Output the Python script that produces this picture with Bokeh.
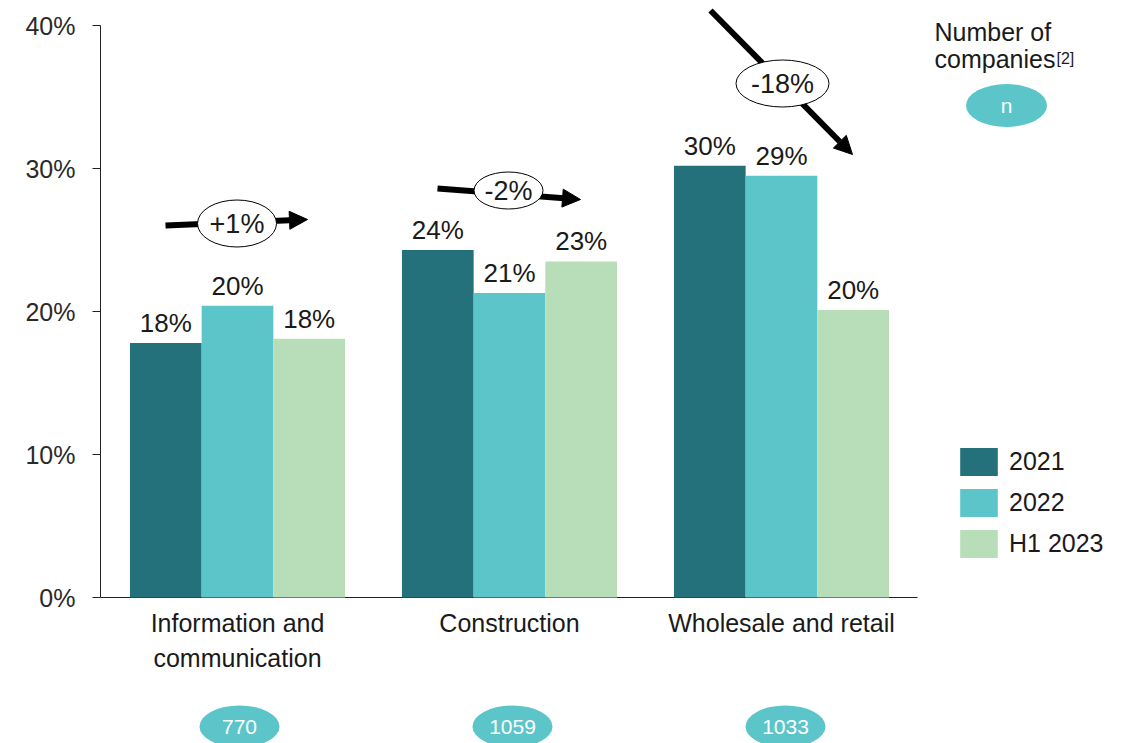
import numpy as np
from bokeh.plotting import figure
from bokeh.models import (Range1d, NumeralTickFormatter, FixedTicker, Arrow, NormalHead,
                          Legend, LegendItem)
from bokeh.core.properties import value
from bokeh.embed import file_html
from bokeh.resources import INLINE

# ---------------- data ----------------
categories = ["Information and\ncommunication", "Construction", "Wholesale and retail"]
series = ["2021", "2022", "H1 2023"]
v2021 = [0.178, 0.243, 0.302]
v2022 = [0.204, 0.213, 0.295]
vH1 = [0.181, 0.235, 0.201]
lab2021 = ["18%", "24%", "30%"]
lab2022 = ["20%", "21%", "29%"]
labH1 = ["18%", "23%", "20%"]
changes = ["+1%", "-2%", "-18%"]
company_counts = ["770", "1059", "1033"]
y_ticks = [0.0, 0.1, 0.2, 0.3, 0.4]

colors = ["#24717B", "#5BC5CA", "#B8DDB9"]
FONT = "Liberation Sans"
TXT = "#1a1a1a"

# pixel helpers (layout only)
GX0, GSTEP = 237.0, 272.0
Y0, YSCALE = 597.0, 1430.0


def xd(px):
    return (px - GX0) / GSTEP


def yd(py):
    return (Y0 - py) / YSCALE


p = figure(width=1132, height=743, output_backend="svg", toolbar_location=None,
           x_range=Range1d(xd(100), xd(1132)), y_range=Range1d(yd(743), yd(0)),
           x_axis_location=None, min_border_left=100, min_border_right=0,
           min_border_top=0, min_border_bottom=0)
p.grid.visible = False
p.outline_line_color = None
p.background_fill_color = "white"
p.border_fill_color = "white"

ax = p.yaxis[0]
ax.bounds = (0, 0.4)
ax.ticker = FixedTicker(ticks=y_ticks)
ax.formatter = NumeralTickFormatter(format="0%")
ax.minor_tick_line_color = None
ax.major_tick_in = 0
ax.major_tick_out = 8
ax.axis_line_color = "#222222"
ax.major_tick_line_color = "#222222"
ax.major_label_text_font = FONT
ax.major_label_text_font_size = "25px"
ax.major_label_text_color = "#2a2a2a"
ax.major_label_standoff = 17

# baseline
p.segment(x0=[xd(100)], y0=[0], x1=[xd(917)], y1=[0], line_color="#222222", line_width=1.2)

bw = 71.7 / GSTEP
offsets = [-bw, 0.0, bw]
idx = np.arange(len(categories))
vals = [v2021, v2022, vH1]
labs = [lab2021, lab2022, labH1]
label_gap = 20.0 / YSCALE
rends = []
for i, s in enumerate(series):
    r = p.vbar(x=idx + offsets[i], top=vals[i], bottom=0, width=bw,
               fill_color=colors[i], line_color=None)
    rends.append(r)
    p.text(x=idx + offsets[i], y=np.array(vals[i]) + label_gap, text=labs[i],
           text_font=value(FONT), text_font_size="26px", text_align="center",
           text_baseline="middle", text_color=TXT)

# category labels
p.text(x=idx, y=[yd(608)] * 3, text=categories, text_font=value(FONT),
       text_font_size="25px", text_align="center", text_baseline="top",
       text_line_height=1.28, text_color=TXT)

# company count ellipses
cnt_x = [xd(239), xd(512), xd(785)]
p.ellipse(x=cnt_x, y=[yd(726)] * 3, width=80, height=42, width_units="screen",
          height_units="screen", fill_color="#5BC5CA", line_color=None)
p.text(x=cnt_x, y=[yd(726)] * 3, text=company_counts, text_font=value(FONT),
       text_font_size="21px", text_align="center", text_baseline="middle",
       text_color="white")

# "Number of companies" key
p.text(x=[xd(934)], y=[yd(31.5)], text=["Number of"], text_font=value(FONT),
       text_font_size="25px", text_align="left", text_baseline="middle", text_color=TXT)
p.text(x=[xd(934)], y=[yd(58.5)], text=["companies"], text_font=value(FONT),
       text_font_size="25px", text_align="left", text_baseline="middle", text_color=TXT)
p.text(x=[xd(1056)], y=[yd(58)], text=["[2]"], text_font=value(FONT),
       text_font_size="16px", text_align="left", text_baseline="middle", text_color=TXT)
p.ellipse(x=[xd(1006)], y=[yd(105)], width=81, height=43, width_units="screen",
          height_units="screen", fill_color="#5BC5CA", line_color=None)
p.text(x=[xd(1006)], y=[yd(105)], text=["n"], text_font=value(FONT),
       text_font_size="21px", text_align="center", text_baseline="middle", text_color="white")

# change arrows
arrows = [((165, 225), (307, 219)), ((437, 188), (580, 199)), ((710, 10), (852, 154))]
for (sx, sy), (ex, ey) in arrows:
    a = Arrow(x_start=xd(sx), y_start=yd(sy), x_end=xd(ex), y_end=yd(ey),
              line_width=6, line_color="black",
              end=NormalHead(size=18, fill_color="black", line_color="black"),
              level="underlay")
    p.add_layout(a)

ell_pos = [(236.5, 223, 79, 47), (508, 190, 69, 37), (782, 83, 93, 47)]
for (cx, cy, w, h), t in zip(ell_pos, changes):
    p.ellipse(x=[xd(cx)], y=[yd(cy)], width=w, height=h, width_units="screen",
              height_units="screen", fill_color="white", line_color="black", line_width=1)
    p.text(x=[xd(cx)], y=[yd(cy)], text=[t], text_font=value(FONT),
           text_font_size="27px", text_align="center", text_baseline="middle", text_color=TXT)

legend = Legend(items=[LegendItem(label=s, renderers=[r]) for s, r in zip(series, rends)],
                location=(855, 182), orientation="vertical", glyph_width=47, glyph_height=35,
                label_height=35, spacing=6, padding=0, margin=0, label_standoff=7,
                label_text_font=FONT, label_text_font_size="25px", label_text_color=TXT,
                border_line_color=None, background_fill_alpha=0)
p.add_layout(legend)

open("out.html", "w").write(file_html(p, INLINE))
